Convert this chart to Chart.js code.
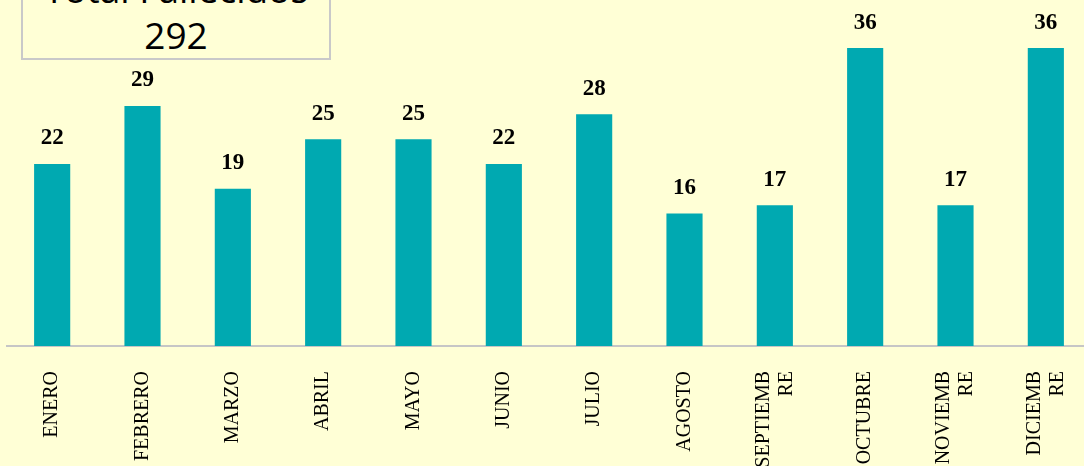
<!DOCTYPE html>
<html>
<head>
<meta charset="utf-8">
<script src="https://cdn.jsdelivr.net/npm/chart.js@4"></script>
<style>
    html, body { margin: 0; padding: 0; background: #FFFFD6; overflow: hidden; }
    #wrap { position: relative; width: 1092px; height: 466px; }
    #totalBox {
        position: absolute; left: 21px; top: -36px; width: 306px; height: 92px;
        border: 2px solid #c9c9c9; background: #FFFFD6;
        font-family: "Open Sans", "Liberation Sans", sans-serif; font-size: 37px;
        line-height: 46px; text-align: center; color: #000; z-index: 2;
    }
</style>
</head>
<body>
<div id="wrap">
    <div id="totalBox">Total Fallecidos<br>292</div>
    <canvas id="fallecidosChart" width="1092" height="466"></canvas>
</div>
<script>
const months = ['ENERO', 'FEBRERO', 'MARZO', 'ABRIL', 'MAYO', 'JUNIO', 'JULIO', 'AGOSTO',
    ['SEPTIEMB', 'RE'], 'OCTUBRE', ['NOVIEMB', 'RE'], ['DICIEMB', 'RE']];
const fallecidos = [22, 29, 19, 25, 25, 22, 28, 16, 17, 36, 17, 36];

// numbers above each bar
const valueLabels = {
    id: 'valueLabels',
    afterDatasetsDraw(chart) {
        const ctx = chart.ctx;
        const meta = chart.getDatasetMeta(0);
        ctx.save();
        ctx.font = 'bold 23px "Liberation Serif", serif';
        ctx.fillStyle = '#000';
        ctx.textAlign = 'center';
        ctx.textBaseline = 'bottom';
        meta.data.forEach(function(bar, i) {
            ctx.fillText(String(fallecidos[i]), bar.x, bar.y - 14);
        });
        ctx.restore();
    }
};

const bg = {
    id: 'bg',
    beforeDraw(chart) {
        const ctx = chart.ctx;
        ctx.save();
        ctx.fillStyle = '#FFFFD6';
        ctx.fillRect(0, 0, chart.width, chart.height);
        ctx.restore();

        // centre the two-line month labels on their bar
        const xs = chart.scales.x;
        xs.getLabelItems().forEach(function(item) {
            if (Array.isArray(item.label) && !item._centred) {
                const lh = item.font.lineHeight;
                item.options.translation[0] -= (item.label.length - 1) * lh / 2;
                item._centred = true;
            }
        });
    }
};

new Chart(document.getElementById('fallecidosChart'), {
    type: 'bar',
    data: {
        labels: months,
        datasets: [{
            label: 'Fallecidos',
            data: fallecidos,
            backgroundColor: '#00A9B1',
            borderWidth: 0,
            barPercentage: 0.4,
            categoryPercentage: 1
        }]
    },
    options: {
        responsive: false,
        animation: false,
        layout: { padding: { left: 7, right: 1, top: 15, bottom: 0 } },
        plugins: {
            legend: { display: false },
            tooltip: { enabled: false }
        },
        scales: {
            x: {
                grid: { display: false, drawTicks: false },
                border: { display: true, color: '#c6c6c6', width: 2 },
                ticks: {
                    color: '#000',
                    font: { family: '"Liberation Serif", serif', size: 20, lineHeight: 1.15 },
                    minRotation: 90,
                    maxRotation: 90,
                    padding: 25,
                    autoSkip: false
                },
                afterFit(scale) {
                    scale.height = 120;
                    scale.paddingLeft = 0;
                    scale.paddingRight = 0;
                }
            },
            y: {
                display: false,
                min: 0,
                max: 40
            }
        }
    },
    plugins: [bg, valueLabels]
});
</script>
</body>
</html>
